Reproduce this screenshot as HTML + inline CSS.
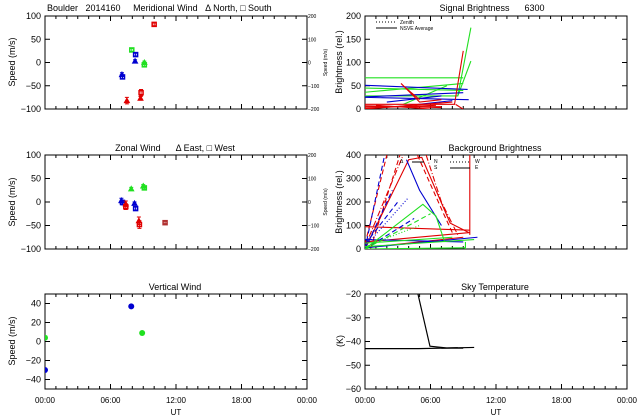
<!DOCTYPE html>
<html><head><meta charset="utf-8"><style>
html,body{margin:0;padding:0;background:#fff;}
svg{display:block;font-family:"Liberation Sans",sans-serif;}
text{white-space:pre;}
</style></head><body>
<svg id="chart" width="640" height="420" viewBox="0 0 640 420" xmlns="http://www.w3.org/2000/svg" xml:space="preserve"></svg>
<script>
// ---- data ----
const timeTicks=["00:00","06:00","12:00","18:00","00:00"];
const merHours=[10.0,7.95,8.3,8.25,9.1,9.1,7.05,7.1,7.5,8.75,8.8];
const merVals=[82,27,17,3,0,-5,-26,-31,-82,-77,-65];
const merColors=["#e00000","#20e020","#0000d0","#0000d0","#20e020","#20e020","#0000d0","#0000d0","#e00000","#e00000","#e00000"];
const merShapes=["sq","sq","sq","tri","tri","sq","tri","sq","tri","tri","sq"];
const merErr=[3,3,3,3,3,3,4,4,7,4,7];
const zonHours=[7.9,9.0,9.1,7.0,7.1,8.2,8.3,7.4,7.4,8.6,8.65,11.0];
const zonVals=[28,34,30,3,-1,-3,-14,-4,-10,-40,-48,-44];
const zonColors=["#20e020","#20e020","#20e020","#0000d0","#0000d0","#0000d0","#0000d0","#e00000","#e00000","#e00000","#e00000","#b03030"];
const zonShapes=["tri","tri","sq","tri","sq","tri","sq","tri","sq","tri","sq","sq"];
const zonErr=[3,3,3,5,5,3,3,6,6,8,8,2];
const vertHours=[7.9,8.9,0.0,0.0];
const vertVals=[37,9,4,-30];
const vertColors=["#0000d0","#20e020","#20e020","#0000d0"];
const skyLines=[[[0,-43],[4.9,-43],[10,-42.5]],[[4.85,-20],[5.95,-42],[7.5,-42.7],[8.5,-42.6]],[[7,-42.8],[9,-42.8]]];
const sigLines=[
 ["#20e020","s",[[0,67],[9,67]]],["#20e020","s",[[0,36],[9,55]]],["#20e020","s",[[0,45],[9,40]]],
 ["#20e020","s",[[3.5,10],[7.5,50]]],["#20e020","s",[[0,28],[8.5,28],[9.7,175]]],["#20e020","s",[[8.5,28],[9.7,103]]],
 ["#0000d0","s",[[0,51],[9.4,42]]],["#0000d0","s",[[0,26],[9,35]]],["#0000d0","s",[[0,25],[9.5,20]]],
 ["#0000d0","s",[[2,15],[7,28]]],["#0000d0","s",[[3,5],[8,18]]],
 ["#e00000","s",[[0,10],[8.2,10],[9.0,125]]],["#e00000","s",[[0,5],[7,5]]],["#e00000","s",[[0,2],[6.5,8]]],
 ["#e00000","s",[[1,8],[6,0]]],["#e00000","s",[[3.3,55],[5,15],[7,20]]],["#e00000","s",[[3.5,50],[5,20]]],
 ["#e00000","s",[[8.3,10],[9.3,-5]]],["#e00000","s",[[0,0],[8,15]]],["#e00000","s",[[0,7],[7,3]]]];
const bgLines=[
 ["#e00000","s",[[0,0],[4,380],[5.2,390],[7.8,110],[9.5,70]]],["#e00000","s",[[9.6,60],[9.6,400]]],
 ["#e00000","s",[[0,95],[9.6,80]]],["#e00000","s",[[0,30],[9.6,70]]],["#e00000","s",[[0,5],[9,50]]],
 ["#e00000","d",[[0,20],[2,400]]],["#e00000","d",[[0.5,0],[3.2,400]]],["#e00000","d",[[4.8,400],[7.2,150],[8,70]]],
 ["#e00000","dd",[[0,10],[3.5,400]]],["#e00000","dd",[[5.6,400],[7,200],[8.5,60]]],
 ["#0000d0","d",[[0,0],[1.8,400]]],["#0000d0","d",[[0,0],[2.5,250]]],["#0000d0","d",[[0,20],[3,200]]],
 ["#0000d0","d",[[0,0],[4.5,130]]],["#0000d0","o",[[0,10],[4,220]]],
 ["#0000d0","s",[[3.8,380],[5,250],[7,100]]],["#0000d0","s",[[0,40],[9,30]]],["#0000d0","s",[[0,5],[10.3,50]]],
 ["#20e020","s",[[0,0],[5.3,190],[6.5,140],[7.3,30]]],["#20e020","s",[[0,10],[10,40]]],["#20e020","s",[[0,0],[9.2,5]]],
 ["#20e020","s",[[9.2,0],[9.2,30]]],["#20e020","d",[[0,0],[6,150]]],["#20e020","o",[[0,10],[5,100]]],["#20e020","s",[[0,25],[8,50]]]];

const svg=document.getElementById('chart');
const NS="http://www.w3.org/2000/svg";
function mk(tag,attrs,parent){const e=document.createElementNS(NS,tag);for(const k in attrs)e.setAttribute(k,attrs[k]);(parent||svg).appendChild(e);return e;}
function txt(x,y,s,size,anchor,parent,rot){const t=mk('text',{x:x,y:y,'font-size':size,'text-anchor':anchor||'start',fill:'#000'},parent);if(rot)t.setAttribute('transform','rotate(-90 '+x+' '+y+')');t.textContent=s;return t;}

function panel(name,x0,y0,x1,y1,ymin,ymax,yticks,showTime){
 const g=mk('g',{});
 
 
 const sx=h=>x0+(h/24)*(x1-x0);
 const sy=v=>y1-(v-ymin)/(ymax-ymin)*(y1-y0);
 mk('rect',{x:x0,y:y0,width:x1-x0,height:y1-y0,fill:'none',stroke:'#000','stroke-width':1},g);
 for(let h=0;h<=24;h++){const L=(h%6===0)?5:3;const X=sx(h);
  mk('line',{x1:X,y1:y1,x2:X,y2:y1-L,stroke:'#000'},g);mk('line',{x1:X,y1:y0,x2:X,y2:y0+L,stroke:'#000'},g);}
 yticks.forEach(v=>{const Y=sy(v);mk('line',{x1:x0,y1:Y,x2:x0+5,y2:Y,stroke:'#000'},g);mk('line',{x1:x1,y1:Y,x2:x1-5,y2:Y,stroke:'#000'},g);
  txt(x0-4,Y+3,String(v).replace('-','\u2212'),9,'end',g);});
 if(showTime){timeTicks.forEach((s,i)=>{txt(sx(i*6),y1+14,s,8,'middle',g);});txt((x0+x1)/2,y1+26,'UT',8,'middle',g);}
 const cid='c'+name;const cp=mk('clipPath',{id:cid},g);mk('rect',{x:x0,y:y0,width:x1-x0,height:y1-y0},cp);
 const inner=mk('g',{'clip-path':'url(#'+cid+')'},g);
 return {g,inner,sx,sy};
}
function marker(p,h,v,color,shape,err){
 const X=p.sx(h),Y=p.sy(v);
 if(err){const e=mk('path',{d:`M${X},${p.sy(v+err)}V${p.sy(v-err)}M${X-2},${p.sy(v+err)}h4M${X-2},${p.sy(v-err)}h4`,stroke:color,'stroke-width':1,fill:'none'},p.inner);
  }
 let m;
 if(shape==='sq'){m=mk('rect',{x:X-2,y:Y-2,width:4,height:4,fill:'none',stroke:color,'stroke-width':1.5},p.inner);}
 else if(shape==='tri'){m=mk('path',{d:`M${X},${Y-2.5}L${X+2.5},${Y+2}L${X-2.5},${Y+2}Z`,fill:color,stroke:color},p.inner);}
 else {m=mk('circle',{cx:X,cy:Y,r:3,fill:color},p.inner);}
 
 
}
function lines(p,arr){
 arr.forEach(([c,st,pts])=>{const d=pts.map((q,i)=>(i?'L':'M')+p.sx(q[0])+','+p.sy(q[1])).join('');
  const dash=st==='d'?'5,3':st==='o'?'1,2':st==='dd'?'6,2,1,2':'none';
  const l=mk('path',{d:d,stroke:c,'stroke-width':1.1,fill:'none','stroke-dasharray':dash},p.inner);
  
  });
}
function rightAxis(x,y0,y1){const g=mk('g',{});
 
 [200,100,0,-100,-200].forEach((v,i)=>{const Y=y0+i*(y1-y0)/4;txt(x+1,Y+2,String(v).replace('-','\u2212'),5,'start',g);});
 txt(327,(y0+y1)/2,'Speed (m/s)',5,'middle',g,true);}

// Row 1 left
const p1=panel('meridional-wind-panel',45,16,307,109,-100,100,[100,50,0,-50,-100],false);
merHours.forEach((h,i)=>marker(p1,h,merVals[i],merColors[i],merShapes[i],merErr[i]));
txt(47,11,'Boulder   2014160     Meridional Wind   \u0394 North, \u25A1 South',9,'start');
txt(15,62,'Speed (m/s)',9,'middle',null,true);
rightAxis(307,16,109);
// Row 1 right
const p2=panel('signal-brightness-panel',365,16,627,109,0,200,[200,150,100,50,0],false);
lines(p2,sigLines);
txt(492,11,'Signal Brightness      6300',9,'middle');
txt(342,62,'Brightness (rel.)',9,'middle',null,true);
mk('line',{x1:376,y1:22,x2:397,y2:22,stroke:'#000','stroke-dasharray':'1,2'});txt(400,24,'Zenith',5,'start');
mk('line',{x1:376,y1:28,x2:397,y2:28,stroke:'#000'});txt(400,30,'NSVE Average',5,'start');
// Row 2 left
const p3=panel('zonal-wind-panel',45,155,307,249,-100,100,[100,50,0,-50,-100],false);
zonHours.forEach((h,i)=>marker(p3,h,zonVals[i],zonColors[i],zonShapes[i],zonErr[i]));
txt(175,151,'Zonal Wind      \u0394 East, \u25A1 West',9,'middle');
txt(15,202,'Speed (m/s)',9,'middle',null,true);
rightAxis(307,155,249);
// Row 2 right
const p4=panel('background-brightness-panel',365,155,627,249,0,400,[400,300,200,100,0],false);
lines(p4,bgLines);
txt(495,151,'Background Brightness',9,'middle');
txt(342,202,'Brightness (rel.)',9,'middle',null,true);
txt(400,163,'\u0394',5,'start');txt(434,163,'N',5,'start');txt(434,169,'S',5,'start');
txt(475,163,'W',5,'start');txt(475,169,'E',5,'start');
mk('line',{x1:412,y1:162,x2:424,y2:162,stroke:'#000'});
mk('line',{x1:450,y1:162,x2:470,y2:162,stroke:'#000','stroke-dasharray':'1,2'});
mk('line',{x1:450,y1:168,x2:470,y2:168,stroke:'#000'});
// Row 3 left
const p5=panel('vertical-wind-panel',45,294,307,389,-50,50,[40,20,0,-20,-40],true);
vertHours.forEach((h,i)=>marker(p5,h,vertVals[i],vertColors[i],'dot',0));
txt(175,290,'Vertical Wind',9,'middle');
txt(15,341,'Speed (m/s)',9,'middle',null,true);
// Row 3 right
const p6=panel('sky-temperature-panel',365,294,627,389,-60,-20,[-20,-30,-40,-50,-60],true);
skyLines.forEach(pts=>{const d=pts.map((q,i)=>(i?'L':'M')+p6.sx(q[0])+','+p6.sy(q[1])).join('');
 const l=mk('path',{d:d,stroke:'#000','stroke-width':1.2,fill:'none'},p6.inner);
 
 });
txt(495,290,'Sky Temperature',9,'middle');
txt(343,341,'(K)',9,'middle',null,true);
</script>
</body></html>
